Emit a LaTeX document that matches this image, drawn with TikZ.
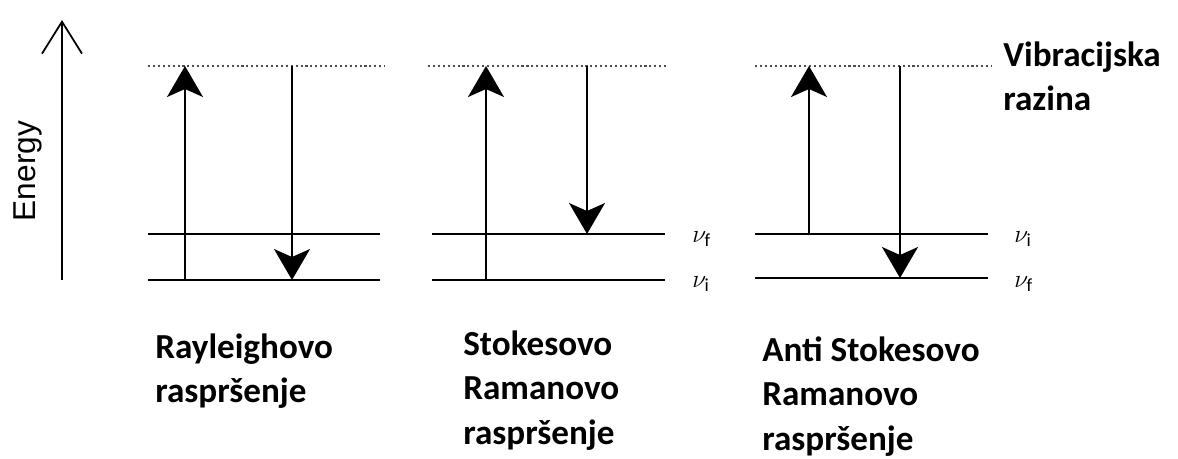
\documentclass[tikz,border=0pt]{standalone}
\usepackage{fontspec}
\setmainfont{Carlito}
\newfontfamily\axisfont{Liberation Sans}
\usetikzlibrary{arrows.meta, positioning}

\tikzset{
	level/.style={line width=1pt},
	virtual/.style={line width=0.9pt, dash pattern=on 1.2pt off 1.6pt, black!70},
	photon/.style={line width=1pt, -{Stealth[length=0.62cm, width=0.72cm, inset=0.16cm]}},
	caption/.style={font=\fontsize{20}{25.5}\selectfont\bfseries, align=left, anchor=north west, inner sep=0pt},
	state/.style={font=\fontsize{15}{17}\selectfont, anchor=west, inner sep=0pt},
}

\begin{document}
\begin{tikzpicture}[x=0.02cm, y=-0.02cm]
	\useasboundingbox (0,0) rectangle (1178,458);

	% energy axis
	\coordinate (E0) at (62,280);
	\coordinate (E1) at (62,20);
	\draw[line width=1pt, -{Straight Barb[length=0.64cm, width=0.8cm]}] (E0) -- (E1);
	\node (energy) at (28,171) [rotate=90, font=\axisfont\fontsize{18}{20}\selectfont] {Energy};

	% Rayleigh
	\coordinate (Rv1) at (148,66);  \coordinate (Rv2) at (385,66);
	\coordinate (Ru1) at (148,234); \coordinate (Ru2) at (380,234);
	\coordinate (Rg1) at (148,280); \coordinate (Rg2) at (380,280);
	\coordinate (Rup0) at (185,280); \coordinate (Rup1) at (185,66);
	\coordinate (Rdn0) at (292,66);  \coordinate (Rdn1) at (292,280);
	\draw[virtual] (Rv1) -- (Rv2);
	\draw[level] (Ru1) -- (Ru2);
	\draw[level] (Rg1) -- (Rg2);
	\draw[photon] (Rup0) -- (Rup1);
	\draw[photon] (Rdn0) -- (Rdn1);
	\node (Rtxt) at (155,333) [caption] {Rayleighovo\\raspršenje};

	% Stokes
	\coordinate (Sv1) at (428,66);  \coordinate (Sv2) at (666,66);
	\coordinate (Su1) at (432,234); \coordinate (Su2) at (665,234);
	\coordinate (Sg1) at (432,280); \coordinate (Sg2) at (665,280);
	\coordinate (Sup0) at (486,280); \coordinate (Sup1) at (486,66);
	\coordinate (Sdn0) at (587,66);  \coordinate (Sdn1) at (587,234);
	\draw[virtual] (Sv1) -- (Sv2);
	\draw[level] (Su1) -- (Su2);
	\draw[level] (Sg1) -- (Sg2);
	\draw[photon] (Sup0) -- (Sup1);
	\draw[photon] (Sdn0) -- (Sdn1);
	\node (Sf) at (692,239) [state] {$\nu_{\mathrm{f}}$};
	\node (Si) at (692,284) [state] {$\nu_{\mathrm{i}}$};
	\node (Stxt) at (463,330) [caption] {Stokesovo\\Ramanovo\\raspršenje};

	% anti-Stokes
	\coordinate (Av1) at (755,66);  \coordinate (Av2) at (992,66);
	\coordinate (Au1) at (755,234); \coordinate (Au2) at (988,234);
	\coordinate (Ag1) at (755,278); \coordinate (Ag2) at (988,278);
	\coordinate (Aup0) at (809,234); \coordinate (Aup1) at (809,66);
	\coordinate (Adn0) at (900,66);  \coordinate (Adn1) at (900,278);
	\draw[virtual] (Av1) -- (Av2);
	\draw[level] (Au1) -- (Au2);
	\draw[level] (Ag1) -- (Ag2);
	\draw[photon] (Aup0) -- (Aup1);
	\draw[photon] (Adn0) -- (Adn1);
	\node (Ai) at (1014,239) [state] {$\nu_{\mathrm{i}}$};
	\node (Af) at (1014,284) [state] {$\nu_{\mathrm{f}}$};
	\node (Atxt) at (762,336) [caption] {Anti Stokesovo\\Ramanovo\\raspršenje};

	\node (vib) at (1003,41) [caption] {Vibracijska\\razina};
\end{tikzpicture}
\end{document}
